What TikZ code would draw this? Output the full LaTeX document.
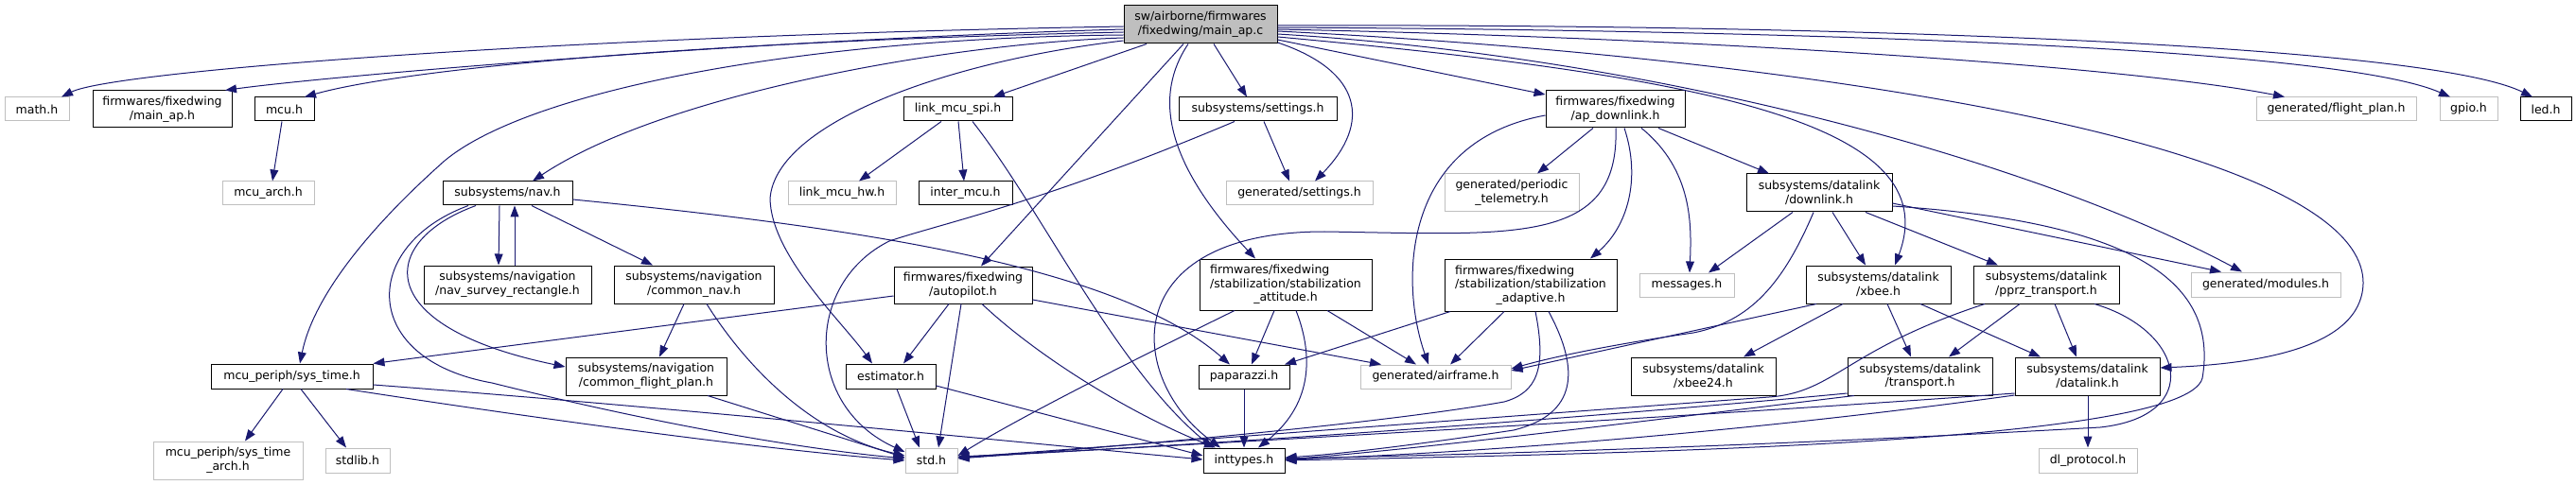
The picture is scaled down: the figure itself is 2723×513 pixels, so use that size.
\documentclass[tikz,border=0pt]{standalone}
\usepackage{fontspec}
\setmainfont{DejaVu Sans}
\usetikzlibrary{arrows.meta}
\definecolor{edgec}{RGB}{25,25,112}
\definecolor{greyb}{RGB}{191,191,191}
\definecolor{mainfill}{RGB}{191,191,191}
\newcommand\fs{\fontsize{6.25}{7.35}\selectfont}
\newcommand\hn[7]{\node[#6,minimum width={(#4-#2)*0.5pt},minimum height={(#5-#3)*0.5pt}] (#1) at ({(#2+#4)/2},{(#3+#5)/2}) {#7};}
\newcommand\lfirst[2]{\rlap{#1}\hphantom{#2}\\#2}
\begin{document}
\begin{tikzpicture}[x=0.5pt,y=-0.5pt,
  hbox/.style={draw=black,line width=0.5pt,fill=white,inner sep=0pt,align=center,font=\fs},
  xbox/.style={draw=greyb,line width=0.5pt,fill=white,inner sep=0pt,align=center,font=\fs},
  mbox/.style={draw=black,line width=0.5pt,fill=mainfill,inner sep=0pt,align=center,font=\fs},
  dep/.style={draw=edgec,line width=0.5pt,-{Triangle[length=6pt,width=4.4pt]}}]
\fill[white] (0,0) rectangle (2723,513);
\useasboundingbox (0,0) rectangle (2723,513);
% nodes
\hn{M}{1188}{6}{1350}{46}{mbox}{sw/airborne/firmwares\\/fixedwing/main\_ap.c}
\hn{mathh}{5}{103}{73}{128}{xbox}{math.h}
\hn{mainaph}{98}{96}{245}{135}{hbox}{firmwares/fixedwing\\/main\_ap.h}
\hn{mcuh}{269}{103}{332}{128}{hbox}{mcu.h}
\hn{mcuarch}{235}{192}{332}{217}{xbox}{mcu\_arch.h}
\hn{navh}{468}{192}{605}{217}{hbox}{subsystems/nav.h}
\hn{survey}{448}{281}{625}{321}{hbox}{subsystems/navigation\\/nav\_survey\_rectangle.h}
\hn{commonnav}{649}{281}{818}{321}{hbox}{subsystems/navigation\\/common\_nav.h}
\hn{cfp}{598}{378}{768}{418}{hbox}{subsystems/navigation\\/common\_flight\_plan.h}
\hn{systime}{223}{385}{394}{411}{hbox}{mcu\_periph/sys\_time.h}
\hn{systimearch}{162}{467}{320}{507}{xbox}{mcu\_periph/sys\_time\\\_arch.h}
\hn{stdlib}{344}{474}{412}{500}{xbox}{stdlib.h}
\hn{linkspi}{955}{103}{1070}{128}{hbox}{link\_mcu\_spi.h}
\hn{linkhw}{833}{192}{947}{217}{xbox}{link\_mcu\_hw.h}
\hn{intermcu}{971}{192}{1070}{217}{hbox}{inter\_mcu.h}
\hn{autopilot}{945}{282}{1091}{321}{hbox}{firmwares/fixedwing\\/autopilot.h}
\hn{estimator}{894}{385}{989}{411}{hbox}{estimator.h}
\hn{stdh}{957}{474}{1012}{500}{xbox}{std.h}
\hn{ssettings}{1246}{103}{1413}{128}{hbox}{subsystems/settings.h}
\hn{gsettings}{1296}{192}{1451}{217}{xbox}{generated/settings.h}
\hn{stabatt}{1268}{274}{1450}{328}{hbox}{\lfirst{firmwares/fixedwing}{/stabilization/stabilization}\\\_attitude.h}
\hn{paparazzi}{1267}{386}{1363}{411}{hbox}{paparazzi.h}
\hn{inttypes}{1272}{474}{1358}{500}{hbox}{inttypes.h}
\hn{airframe}{1438}{386}{1597}{411}{xbox}{generated/airframe.h}
\hn{stabada}{1527}{274}{1709}{329}{hbox}{\lfirst{firmwares/fixedwing}{/stabilization/stabilization}\\\_adaptive.h}
\hn{periodic}{1527}{184}{1669}{224}{xbox}{generated/periodic\\\_telemetry.h}
\hn{apdl}{1634}{96}{1781}{135}{hbox}{firmwares/fixedwing\\/ap\_downlink.h}
\hn{downlink}{1846}{184}{2000}{224}{hbox}{subsystems/datalink\\/downlink.h}
\hn{messages}{1733}{289}{1833}{314}{xbox}{messages.h}
\hn{xbee}{1909}{281}{2062}{321}{hbox}{subsystems/datalink\\/xbee.h}
\hn{pprz}{2086}{281}{2240}{321}{hbox}{subsystems/datalink\\/pprz\_transport.h}
\hn{xbee24}{1724}{378}{1877}{418}{hbox}{subsystems/datalink\\/xbee24.h}
\hn{transport}{1953}{378}{2106}{418}{hbox}{subsystems/datalink\\/transport.h}
\hn{datalink}{2130}{378}{2283}{418}{hbox}{subsystems/datalink\\/datalink.h}
\hn{dlproto}{2155}{474}{2259}{500}{xbox}{dl\_protocol.h}
\hn{modules}{2316}{288}{2474}{314}{xbox}{generated/modules.h}
\hn{flightplan}{2385}{103}{2554}{128}{xbox}{generated/flight\_plan.h}
\hn{gpio}{2579}{103}{2640}{128}{xbox}{gpio.h}
\hn{led}{2664}{103}{2718}{128}{hbox}{led.h}
% edges from main_ap.c, left
\draw[dep] (M.west |- 0,28) .. controls (600,38) and (120,75) .. (mathh.north -| 65,0);
\draw[dep] (M.west |- 0,31) .. controls (800,42) and (350,80) .. (mainaph.north -| 238,0);
\draw[dep] (M.west |- 0,34) .. controls (700,45) and (420,75) .. (mcuh.north -| 322,0);
\draw[dep] (M.west |- 0,37) .. controls (850,40) and (560,95) .. (470,170) .. controls (380,250) and (330,320) .. (systime.north -| 317,0);
\draw[dep] (M.west |- 0,40) .. controls (1000,46) and (700,100) .. (navh.north -| 563,0);
\draw[dep] (M.west |- 0,43) .. controls (1000,65) and (820,130) .. (814,210) .. controls (815,270) and (890,340) .. (estimator.north -| 922,0);
\draw[dep] (M.south -| 1212,0) -- (linkspi.north -| 1050,0);
\draw[dep] (M.south -| 1251,0) -- (autopilot.north -| 1037,0);
\draw[dep] (M.south -| 1256,0) .. controls (1220,100) and (1230,170) .. (stabatt.north -| 1327,0);
\draw[dep] (M.south -| 1283,0) -- (ssettings.north -| 1318,0);
% edges from main_ap.c, right
\draw[dep] (M.east |- 0,27) .. controls (1900,25) and (2560,45) .. (led.north -| 2677,0);
\draw[dep] (M.east |- 0,29) .. controls (1900,32) and (2470,50) .. (gpio.north -| 2590,0);
\draw[dep] (M.east |- 0,31) .. controls (1800,40) and (2250,70) .. (flightplan.north -| 2415,0);
\draw[dep] (M.east |- 0,33) .. controls (1900,60) and (2500,150) .. (2498,300) .. controls (2496,370) and (2380,385) .. (datalink.east |- 0,389);
\draw[dep] (M.east |- 0,36) .. controls (1750,60) and (2150,170) .. (modules.north -| 2370,0);
\draw[dep] (M.east |- 0,39) .. controls (1800,80) and (2060,130) .. (xbee.north -| 2003,0);
\draw[dep] (M.east |- 0,42) -- (apdl.west |- 0,100);
\draw[dep] (M.east |- 0,45) .. controls (1440,75) and (1450,130) .. (gsettings.north -| 1390,0);
% mcu
\draw[dep] (mcuh.south -| 298,0) -- (mcuarch.north -| 288,0);
% nav
\draw[dep] (navh.south -| 528,0) -- (survey.north -| 527,0);
\draw[dep] (survey.north -| 544,0) -- (navh.south -| 544,0);
\draw[dep] (navh.south -| 562,0) -- (commonnav.north -| 690,0);
\draw[dep] (navh.south -| 503,0) .. controls (400,255) and (390,345) .. (cfp.west |- 0,388);
\draw[dep] (navh.south -| 495,0) .. controls (380,260) and (380,380) .. (520,405) .. controls (700,450) and (850,475) .. (stdh.west |- 0,485);
\draw[dep] (navh.east |- 0,211) .. controls (900,240) and (1180,280) .. (paparazzi.north -| 1300,0);
\draw[dep] (commonnav.south -| 723,0) -- (cfp.north -| 697,0);
\draw[dep] (commonnav.south -| 747,0) .. controls (790,390) and (860,460) .. (stdh.west |- 0,482);
\draw[dep] (cfp.south -| 748,0) -- (stdh.west |- 0,484);
% sys_time
\draw[dep] (systime.south -| 299,0) -- (systimearch.north -| 259,0);
\draw[dep] (systime.south -| 318,0) -- (stdlib.north -| 366,0);
\draw[dep] (systime.south -| 366,0) .. controls (550,440) and (800,475) .. (stdh.west |- 0,487);
\draw[dep] (systime.east |- 0,407) .. controls (700,430) and (1100,470) .. (inttypes.west |- 0,486);
% autopilot
\draw[dep] (autopilot.west |- 0,313) -- (systime.north east);
\draw[dep] (autopilot.south -| 1003,0) -- (estimator.north -| 955,0);
\draw[dep] (autopilot.south -| 1016,0) -- (stdh.north -| 992,0);
\draw[dep] (autopilot.south -| 1038,0) .. controls (1100,380) and (1200,440) .. (inttypes.north -| 1285,0);
\draw[dep] (autopilot.east |- 0,317) -- (airframe.north -| 1460,0);
% estimator
\draw[dep] (estimator.south -| 948,0) -- (stdh.north -| 972,0);
\draw[dep] (estimator.east |- 0,408) -- (inttypes.west |- 0,482);
% link_mcu_spi
\draw[dep] (linkspi.south -| 995,0) -- (linkhw.north -| 908,0);
\draw[dep] (linkspi.south -| 1013,0) -- (intermcu.north -| 1019,0);
\draw[dep] (linkspi.south -| 1028,0) .. controls (1100,220) and (1180,390) .. (inttypes.north -| 1282,0);
% settings
\draw[dep] (ssettings.south -| 1336,0) -- (gsettings.north -| 1363,0);
\draw[dep] (ssettings.south -| 1305,0) .. controls (1100,215) and (1000,235) .. (940,255) .. controls (850,300) and (850,430) .. (stdh.west |- 0,478);
% stabilization attitude
\draw[dep] (stabatt.south -| 1305,0) .. controls (1200,380) and (1080,440) .. (stdh.east |- 0,482);
\draw[dep] (stabatt.south -| 1347,0) -- (paparazzi.north -| 1323,0);
\draw[dep] (stabatt.south -| 1370,0) .. controls (1390,380) and (1385,430) .. (inttypes.north -| 1330,0);
\draw[dep] (stabatt.south -| 1403,0) -- (airframe.north -| 1497,0);
% stabilization adaptive
\draw[dep] (stabada.south -| 1533,0) -- (paparazzi.north -| 1358,0);
\draw[dep] (stabada.south -| 1590,0) -- (airframe.north -| 1533,0);
\draw[dep] (stabada.south -| 1623,0) .. controls (1635,390) and (1625,415) .. (1590,425) .. controls (1450,450) and (1150,475) .. (stdh.east |- 0,485);
\draw[dep] (stabada.south -| 1637,0) .. controls (1675,400) and (1660,440) .. (1600,455) .. controls (1500,470) and (1420,480) .. (inttypes.east |- 0,484);
% ap_downlink
\draw[dep] (apdl.west |- 0,122) .. controls (1480,150) and (1480,300) .. (airframe.north -| 1510,0);
\draw[dep] (apdl.south -| 1684,0) -- (periodic.north -| 1625,0);
\draw[dep] (apdl.south -| 1708,0) .. controls (1712,260) and (1600,248) .. (1400,245) .. controls (1180,245) and (1190,400) .. (inttypes.north -| 1290,0);
\draw[dep] (apdl.south -| 1717,0) .. controls (1735,190) and (1720,240) .. (stabada.north -| 1681,0);
\draw[dep] (apdl.south -| 1735,0) .. controls (1790,180) and (1788,240) .. (messages.north -| 1786,0);
\draw[dep] (apdl.south -| 1753,0) -- (downlink.north -| 1870,0);
% downlink
\draw[dep] (downlink.south -| 1895,0) -- (messages.north -| 1806,0);
\draw[dep] (downlink.south -| 1917,0) .. controls (1885,300) and (1850,340) .. (1790,352) .. controls (1700,365) and (1640,378) .. (airframe.east |- 0,390);
\draw[dep] (downlink.south -| 1937,0) -- (xbee.north -| 1972,0);
\draw[dep] (downlink.south -| 1972,0) -- (pprz.north -| 2112,0);
\draw[dep] (downlink.east |- 0,215) -- (modules.north -| 2348,0);
\draw[dep] (downlink.east |- 0,218) .. controls (2260,235) and (2345,300) .. (2328,400) .. controls (2310,470) and (1700,480) .. (inttypes.east |- 0,487);
% xbee
\draw[dep] (xbee.south -| 1920,0) -- (airframe.east |- 0,392);
\draw[dep] (xbee.south -| 1948,0) -- (xbee24.north -| 1843,0);
\draw[dep] (xbee.south -| 1995,0) -- (transport.north -| 2020,0);
\draw[dep] (xbee.south -| 2030,0) -- (datalink.north -| 2157,0);
% pprz_transport
\draw[dep] (pprz.south -| 2135,0) -- (transport.north -| 2060,0);
\draw[dep] (pprz.south -| 2172,0) -- (datalink.north -| 2195,0);
\draw[dep] (pprz.south -| 2098,0) .. controls (1950,370) and (1940,415) .. (1870,420) .. controls (1600,440) and (1200,470) .. (stdh.east |- 0,484);
\draw[dep] (pprz.south -| 2214,0) .. controls (2310,350) and (2330,440) .. (2220,452) .. controls (1900,470) and (1600,480) .. (inttypes.east |- 0,485);
% transport
\draw[dep] (transport.west |- 0,416) .. controls (1700,440) and (1300,470) .. (stdh.east |- 0,483);
\draw[dep] (transport.south -| 1960,0) .. controls (1700,450) and (1500,475) .. (inttypes.east |- 0,486);
% datalink
\draw[dep] (datalink.south -| 2207,0) -- (dlproto.north -| 2207,0);
\draw[dep] (datalink.west |- 0,416) .. controls (1800,440) and (1300,468) .. (stdh.east |- 0,484);
\draw[dep] (datalink.west |- 0,418) .. controls (1900,450) and (1600,478) .. (inttypes.east |- 0,486);
% paparazzi
\draw[dep] (paparazzi.south -| 1315,0) -- (inttypes.north -| 1315,0);
\end{tikzpicture}
\end{document}
